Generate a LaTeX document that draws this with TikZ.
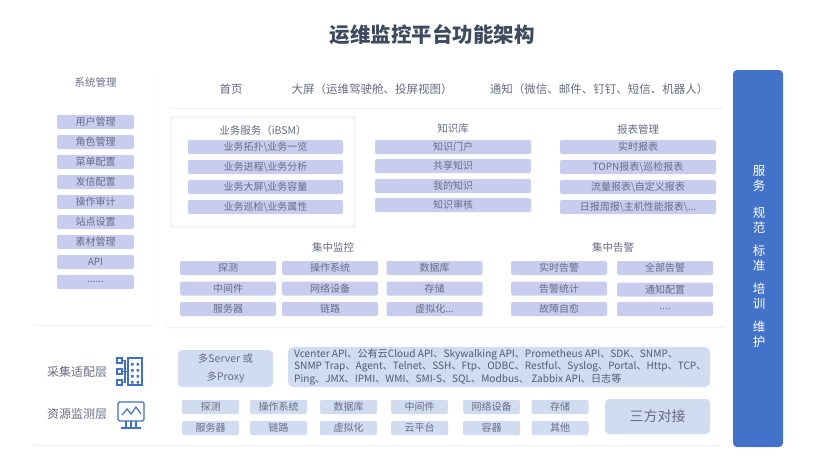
\documentclass[tikz,border=0pt]{standalone}
\usepackage{fontspec}
\setmainfont{Noto Sans CJK SC}
\usetikzlibrary{shadows}
\definecolor{itemfill}{HTML}{C8CDF0}
\definecolor{itemtext}{HTML}{676C84}
\definecolor{basefill}{HTML}{D2DCF1}
\definecolor{barblue}{HTML}{4373C8}
\definecolor{titlegray}{HTML}{3E4A5D}
\definecolor{framepurple}{HTML}{B7BEF0}
\definecolor{iconblue}{HTML}{3F6FC8}
\definecolor{prototext}{HTML}{4F5B70}
\tikzset{
  panel/.style={fill=white, rounded corners=4pt, drop shadow={shadow xshift=0pt, shadow yshift=-1pt, opacity=0.10, fill=black!60}},
  item/.style={fill=itemfill, rounded corners=2pt, text=itemtext, font=\fontsize{10}{12}\selectfont, minimum height=14pt, inner sep=0pt},
  base/.style={item, fill=basefill, minimum width=57pt},
  head/.style={text=itemtext, font=\fontsize{10.5}{12}\selectfont},
  bartext/.style={text=white, align=center, font=\fontsize{12.5}{15}\selectfont},
}
\begin{document}
\begin{tikzpicture}[x=1pt,y=-1pt]
\useasboundingbox[fill=white] (0,0) rectangle (830,466);
% title
\node[text=titlegray, font=\fontsize{20.5}{24}\selectfont\bfseries] (title) at (432,35) {运维监控平台功能架构};
% panels
\draw[panel, draw=none] (33,68) rectangle (158,325);
\draw[panel, draw=none] (170,69) rectangle (725,108);
\draw[panel, draw=none] (165,113) rectangle (727,327);
\draw[panel, draw=none] (32,337) rectangle (725,445);
% top bar
\node[head, font=\fontsize{11.5}{13}\selectfont] (home) at (231,89) {首页};
\node[head, font=\fontsize{11.5}{13}\selectfont] (screen) at (372,89) {大屏（运维驾驶舱、投屏视图）};
\node[head, font=\fontsize{11.5}{13}\selectfont] (notify) at (599,89) {通知（微信、邮件、钉钉、短信、机器人）};
% system management
\node[head] (sys) at (95.5,82) {系统管理};
\node[item, minimum width=77pt] (sys1) at (95.5,122) {用户管理};
\node[item, minimum width=77pt] (sys2) at (95.5,142) {角色管理};
\node[item, minimum width=77pt] (sys3) at (95.5,162) {菜单配置};
\node[item, minimum width=77pt] (sys4) at (95.5,182) {发信配置};
\node[item, minimum width=77pt] (sys5) at (95.5,202) {操作审计};
\node[item, minimum width=77pt] (sys6) at (95.5,222) {站点设置};
\node[item, minimum width=77pt] (sys7) at (95.5,242) {素材管理};
\node[item, minimum width=77pt] (sys8) at (95.5,262) {API};
\node[item, minimum width=77pt] (sys9) at (95.5,282) {......};
% business services
\draw[framepurple, fill=white, rounded corners=3pt] (171,117) rectangle (355,227);
\node[head] (bsm) at (263,131) {业务服务（iBSM）};
\node[item, minimum width=155pt] (bsm1) at (265.5,147) {业务拓扑\textbackslash 业务一览};
\node[item, minimum width=155pt] (bsm2) at (265.5,167) {业务进程\textbackslash 业务分析};
\node[item, minimum width=155pt] (bsm3) at (265.5,187) {业务大屏\textbackslash 业务容量};
\node[item, minimum width=155pt] (bsm4) at (265.5,207) {业务巡检\textbackslash 业务属性};
% knowledge base
\node[head] (kb) at (453,129) {知识库};
\node[item, minimum width=156pt] (kb1) at (453,147) {知识门户};
\node[item, minimum width=156pt] (kb2) at (453,166) {共享知识};
\node[item, minimum width=156pt] (kb3) at (453,186) {我的知识};
\node[item, minimum width=156pt] (kb4) at (453,205) {知识审核};
% reports
\node[head] (rpt) at (638,129) {报表管理};
\node[item, minimum width=156pt] (rpt1) at (638,147) {实时报表};
\node[item, minimum width=156pt] (rpt2) at (638,167) {TOPN报表\textbackslash 巡检报表};
\node[item, minimum width=156pt] (rpt3) at (638,187) {流量报表\textbackslash 自定义报表};
\node[item, minimum width=156pt] (rpt4) at (638,207) {日报周报\textbackslash 主机性能报表\textbackslash ...};
% central monitoring
\node[head] (mon) at (333,247) {集中监控};
\node[item, minimum width=96pt] (mon1) at (228,268) {探测};
\node[item, minimum width=96pt] (mon2) at (330,268) {操作系统};
\node[item, minimum width=96pt] (mon3) at (434.5,268) {数据库};
\node[item, minimum width=96pt] (mon4) at (228,288.5) {中间件};
\node[item, minimum width=96pt] (mon5) at (330,288.5) {网络设备};
\node[item, minimum width=96pt] (mon6) at (434.5,288.5) {存储};
\node[item, minimum width=96pt] (mon7) at (228,309) {服务器};
\node[item, minimum width=96pt] (mon8) at (330,309) {链路};
\node[item, minimum width=96pt] (mon9) at (434.5,309) {虚拟化...};
% central alarms
\node[head] (alm) at (613,248) {集中告警};
\node[item, minimum width=96pt] (alm1) at (559,268) {实时告警};
\node[item, minimum width=96pt] (alm2) at (665,268) {全部告警};
\node[item, minimum width=96pt] (alm3) at (559,288.5) {告警统计};
\node[item, minimum width=96pt] (alm4) at (665,289.5) {通知配置};
\node[item, minimum width=96pt] (alm5) at (559,309) {故障自愈};
\node[item, minimum width=96pt] (alm6) at (665,309) {....};
% collection layer
\node[head, font=\fontsize{12}{14}\selectfont] (collect) at (77,372) {采集适配层};
\draw[iconblue, line width=1.3pt] (128,358) rectangle (142,385);
\foreach \y in {363,369,375,381}
  \fill[iconblue] (131,\y) rectangle +(2.5,2.5) (136.5,\y) rectangle +(2.5,2.5);
\draw[iconblue, line width=1.2pt] (117,358) rectangle (122,363) (117,369) rectangle (122,374) (117,380) rectangle (122,385);
\draw[iconblue, line width=1.2pt] (122,360.5) -- (125,360.5) -- (125,382.5) -- (122,382.5) (122,371.5) -- (128,371.5);
\node[base, minimum width=95pt, minimum height=37pt, rounded corners=4pt, align=center, font=\fontsize{10.5}{18}\selectfont] (proxy) at (225.5,368.5) {多Server 或\\多Proxy};
\node[base, minimum width=422pt, minimum height=40pt, rounded corners=5pt] (proto) at (499,367) {};
\node[anchor=west, align=left, text=prototext, inner sep=0pt, font=\fontsize{10.1}{12.6}\selectfont] (prototxt) at (294,367) {Vcenter API、公有云Cloud API、Skywalking API、Prometheus API、SDK、SNMP、\\SNMP Trap、Agent、Telnet、SSH、Ftp、ODBC、Restful、Syslog、Portal、Http、TCP、\\Ping、JMX、IPMI、WMI、SMI-S、SQL、Modbus、 Zabbix API、日志等};
% resource layer
\node[head, font=\fontsize{12}{14}\selectfont] (resource) at (77,414) {资源监测层};
\draw[iconblue, line width=1.3pt, rounded corners=1.5pt] (118,402) rectangle (144,421);
\draw[iconblue, line width=1.2pt] (122,415) -- (127,409) -- (131,414) -- (136,407) -- (141,414);
\draw[iconblue, line width=1.2pt] (121,428) -- (141,428) (126,421) -- (126,428) (131,421) -- (131,428) (136,421) -- (136,428);
\node[base] (res1) at (210.5,407) {探测};
\node[base] (res2) at (278.5,407) {操作系统};
\node[base] (res3) at (348.5,407) {数据库};
\node[base] (res4) at (419.5,407) {中间件};
\node[base] (res5) at (491.5,407) {网络设备};
\node[base] (res6) at (560,407) {存储};
\node[base] (res7) at (210.5,428) {服务器};
\node[base] (res8) at (278.5,428) {链路};
\node[base] (res9) at (348.5,428) {虚拟化};
\node[base] (res10) at (419.5,428) {云平台};
\node[base] (res11) at (491.5,428) {容器};
\node[base] (res12) at (560,428) {其他};
\node[base, minimum width=105pt, minimum height=35pt, rounded corners=4pt, font=\fontsize{14}{16}\selectfont] (third) at (657.5,416.5) {三方对接};
% right bar
\fill[barblue, rounded corners=4pt] (733,70) rectangle (783,447);
\node[bartext] (bar1) at (759,178) {服\\务};
\node[bartext] (bar2) at (759,220.5) {规\\范};
\node[bartext] (bar3) at (759,258) {标\\准};
\node[bartext] (bar4) at (759,296.5) {培\\训};
\node[bartext] (bar5) at (759,334.5) {维\\护};
\end{tikzpicture}
\end{document}
